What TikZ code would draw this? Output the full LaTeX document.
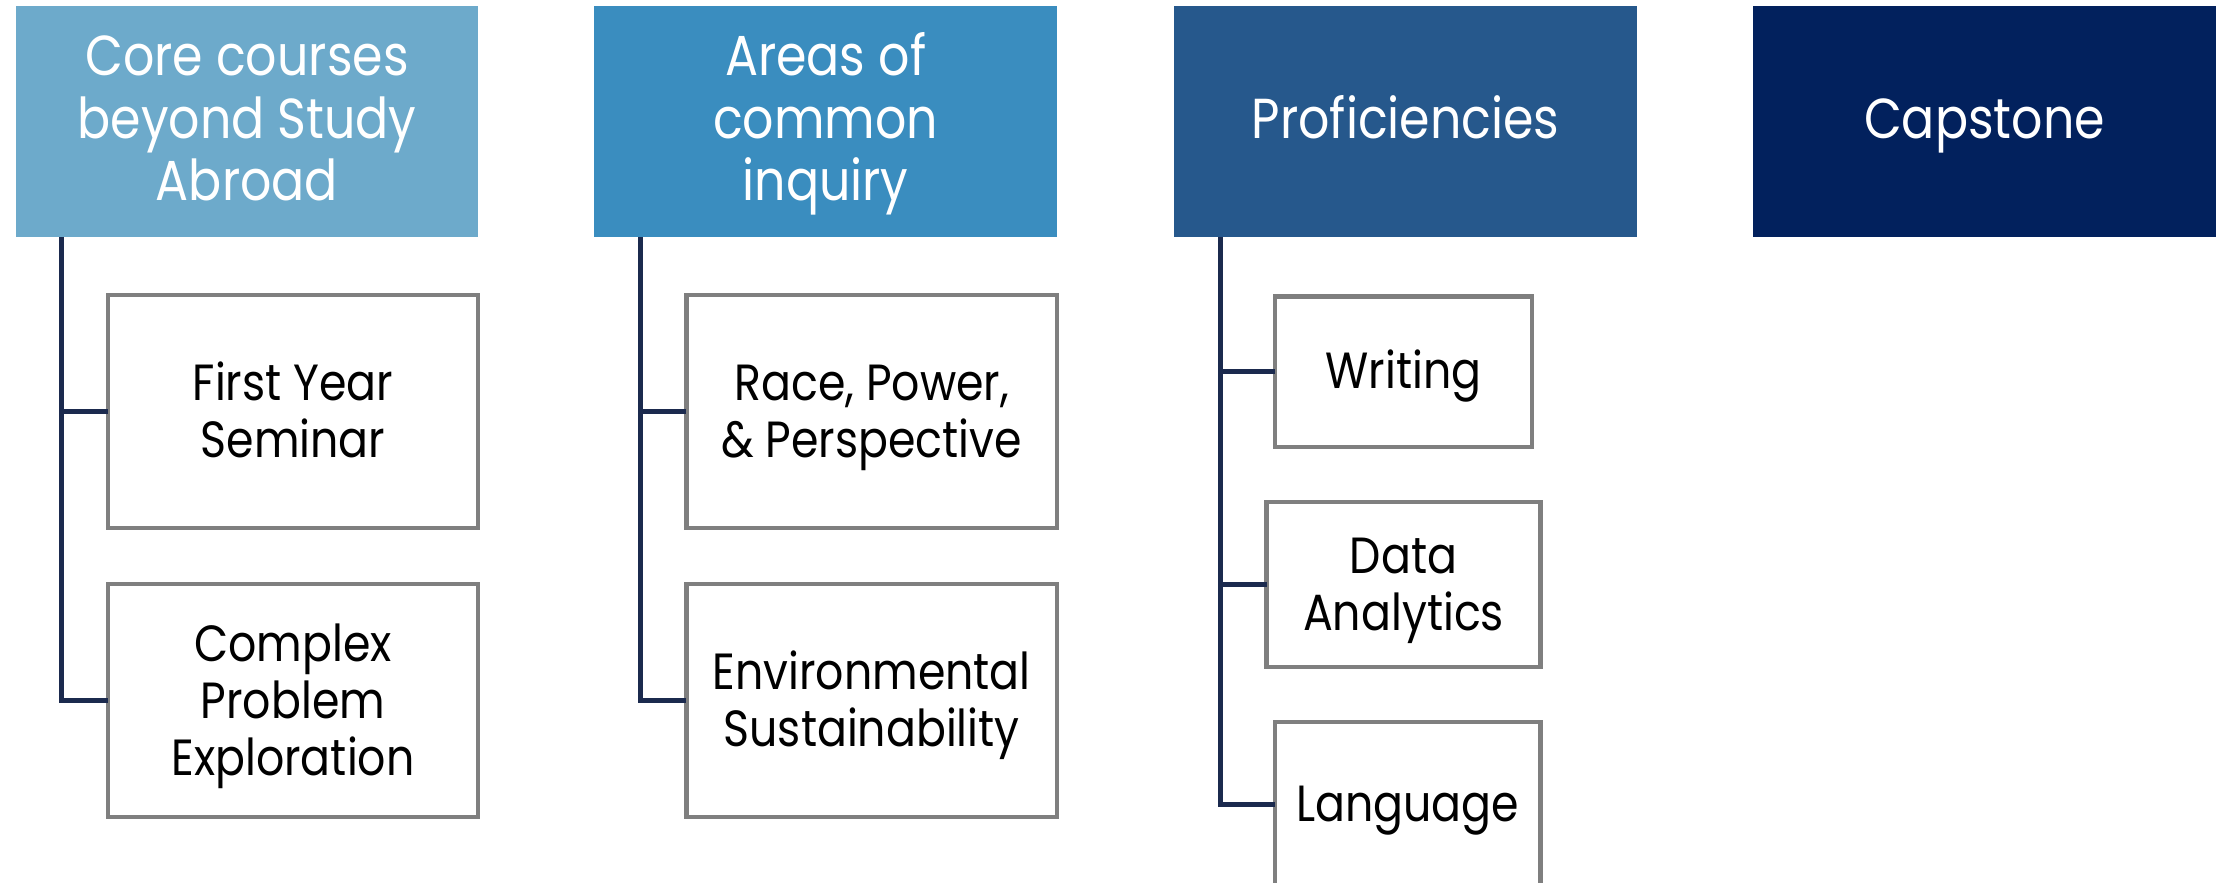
\documentclass[tikz,border=0pt]{standalone}
\usepackage{fontspec}
\setmainfont{Poppins}[FakeStretch=0.87]
\usetikzlibrary{calc}
\definecolor{hcore}{HTML}{6DAACB}
\definecolor{harea}{HTML}{3A8DBF}
\definecolor{hprof}{HTML}{26588C}
\definecolor{hcap}{HTML}{02215D}
\definecolor{navy}{HTML}{1B2A4E}
\definecolor{boxgray}{HTML}{7F7F7F}
\newcommand{\mltext}[2]{\raisebox{#1}[0pt][0pt]{\makebox[0pt]{\parbox[t]{3.2cm}{\centering #2}}}}
\tikzset{
  head/.style={draw=none, text=white, anchor=north west,
    minimum width=3.26cm, minimum height=1.63cm, inner sep=0pt, outer sep=0pt,
    font=\fontsize{11.3}{12.5}\selectfont},
  child/.style={draw=boxgray, line width=0.85pt, fill=white,
    anchor=north west, inner sep=0pt, outer sep=0pt,
    font=\fontsize{10.2}{11.4}\selectfont},
  conn/.style={draw=navy, line width=1pt}
}
\begin{document}
\begin{tikzpicture}[x=0.01cm,y=-0.01cm]
\useasboundingbox (0,0) rectangle (1568,622);
\clip (0,0) rectangle (1568,622);
% headers
\node[head, fill=hcore] (core) at (11,4) {\mltext{9.1pt}{Core courses\\beyond Study\\Abroad}};
\node[head, fill=harea] (area) at (419,4) {\mltext{9.1pt}{Areas of\\common\\inquiry}};
\node[head, fill=hprof] (prof) at (828,4) {\mltext{-3.4pt}{Proficiencies}};
\node[head, fill=hcap] (cap) at (1236,4) {\mltext{-3.4pt}{Capstone}};
% children
\node[child, minimum width=2.61cm, minimum height=1.64cm] (fy) at (76,208) {\mltext{2.2pt}{First Year\\Seminar}};
\node[child, minimum width=2.61cm, minimum height=1.64cm] (cp) at (76,412) {\mltext{7.9pt}{Complex\\Problem\\Exploration}};
\node[child, minimum width=2.61cm, minimum height=1.64cm] (rp) at (484,208) {\mltext{2.2pt}{Race, Power,\\\& Perspective}};
\node[child, minimum width=2.61cm, minimum height=1.64cm] (es) at (484,412) {\mltext{2.2pt}{Environmental\\Sustainability}};
\node[child, minimum width=1.81cm, minimum height=1.06cm] (wr) at (899,209) {\mltext{-3.4pt}{Writing}};
\node[child, minimum width=1.93cm, minimum height=1.16cm] (da) at (893,354) {\mltext{2.2pt}{Data\\Analytics}};
\node[child, minimum width=1.87cm, minimum height=1.16cm] (la) at (899,509) {\mltext{-3.4pt}{Language}};
% connector tops
\coordinate (t1) at ($(core.south west)+(32.7,0)$);
\coordinate (t2) at ($(area.south west)+(32.7,0)$);
\coordinate (t3) at ($(prof.south west)+(32.7,0)$);
\draw[conn] (t1) |- (cp.west);
\draw[conn] (t1 |- fy.west) -- (fy.west);
\draw[conn] (t2) |- (es.west);
\draw[conn] (t2 |- rp.west) -- (rp.west);
\draw[conn] (t3) |- (la.west);
\draw[conn] (t3 |- wr.west) -- (wr.west);
\draw[conn] (t3 |- da.west) -- (da.west);
\end{tikzpicture}
\end{document}
